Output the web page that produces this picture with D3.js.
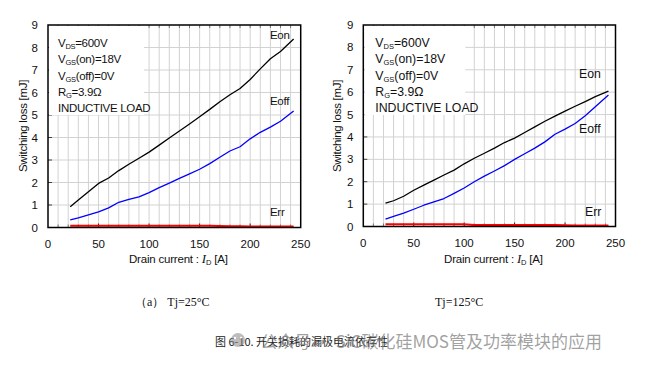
<!DOCTYPE html>
<html><head><meta charset="utf-8">
<script src="https://cdn.jsdelivr.net/npm/d3@7"></script>
<style>
html,body{margin:0;padding:0;background:#fff;}
svg{display:block;}
text{font-family:"Liberation Sans",Arial,sans-serif;}
</style></head>
<body>
<svg id="c" width="666" height="369"></svg>
<script>
// ---- data ----
const drainCurrent = [22,30,40,50,60,70,80,90,100,110,120,130,140,150,160,170,180,190,200,210,220,230,243];
const eon25  = [0.92,1.22,1.59,1.96,2.2,2.53,2.81,3.08,3.35,3.66,3.98,4.29,4.6,4.92,5.25,5.59,5.9,6.18,6.58,7.05,7.5,7.82,8.38];
const eoff25 = [0.34,0.43,0.56,0.69,0.87,1.12,1.25,1.36,1.55,1.77,1.97,2.18,2.38,2.59,2.84,3.12,3.4,3.59,3.94,4.23,4.46,4.72,5.18];
const err25  = [0.08,0.08,0.08,0.08,0.08,0.08,0.08,0.08,0.08,0.08,0.08,0.08,0.08,0.08,0.08,0.07,0.06,0.06,0.05,0.05,0.05,0.05,0.05];
const eon125  = [1.04,1.15,1.35,1.62,1.85,2.07,2.3,2.52,2.8,3.05,3.27,3.5,3.75,3.95,4.2,4.45,4.7,4.93,5.15,5.37,5.58,5.8,6.05];
const eoff125 = [0.33,0.45,0.6,0.77,0.95,1.1,1.25,1.48,1.72,2.0,2.25,2.48,2.72,3.0,3.25,3.5,3.78,4.12,4.35,4.6,4.95,5.35,5.87];
const err125  = [0.1,0.1,0.1,0.1,0.1,0.1,0.1,0.1,0.1,0.07,0.07,0.07,0.07,0.07,0.07,0.07,0.07,0.07,0.06,0.05,0.05,0.04,0.04];
const xTicks = [0,50,100,150,200,250];
const yTicks = [0,1,2,3,4,5,6,7,8,9];
const seriesNames = ["Eon","Eoff","Err"];
const seriesColors = ["#000000","#0000ff","#ff0000"];
const conditions = ["=600V","(on)=18V","(off)=0V","=3.9Ω","INDUCTIVE LOAD"];
const captions = ["（a）  Tj=25°C","Tj=125°C"];
const figTitle = "图  6-10.  开关损耗的漏极电流依存性";
const watermark = "公众号 · SiC碳化硅MOS管及功率模块的应用";

const svg = d3.select("#c");

function panel(cfg){
  const x = d3.scaleLinear().domain([0,250]).range([cfg.x0,cfg.x1]);
  const y = d3.scaleLinear().domain([0,9]).range([cfg.yb,cfg.yt]);
  const g = svg.append("g");
  // grid
  g.selectAll(".vg").data(d3.range(10,250,10)).join("line")
    .attr("x1",d=>x(d)).attr("x2",d=>x(d)).attr("y1",cfg.yt).attr("y2",cfg.yb)
    .attr("stroke","#d2d2d2").attr("stroke-width",1);
  g.selectAll(".hg").data(d3.range(1,9)).join("line")
    .attr("y1",d=>y(d)).attr("y2",d=>y(d)).attr("x1",cfg.x0).attr("x2",cfg.x1)
    .attr("stroke","#d2d2d2").attr("stroke-width",1);
  // inner ticks
  const minor = d3.range(10,250,10);
  g.selectAll(".tt").data(minor).join("line")
    .attr("x1",d=>x(d)).attr("x2",d=>x(d)).attr("y1",cfg.yt).attr("y2",cfg.yt+3)
    .attr("stroke","#777").attr("stroke-width",1);
  g.selectAll(".bt").data(minor).join("line")
    .attr("x1",d=>x(d)).attr("x2",d=>x(d)).attr("y1",cfg.yb).attr("y2",d=> d%50===0? cfg.yb-4 : cfg.yb-3)
    .attr("stroke",d=> d%50===0? "#222":"#777").attr("stroke-width",1);
  g.selectAll(".lt").data(d3.range(1,9)).join("line")
    .attr("y1",d=>y(d)).attr("y2",d=>y(d)).attr("x1",cfg.x0).attr("x2",cfg.x0+4)
    .attr("stroke","#444").attr("stroke-width",1);
  // legend box
  g.append("rect").attr("x",cfg.x0+1).attr("y",cfg.yt+1).attr("width",cfg.boxW).attr("height",89)
    .attr("fill","#fff");
  // conditions text
  const lt = g.append("g").attr("font-size",cfg.fs).attr("fill","#111");
  const tx = cfg.x0 + cfg.tx;
  const ys = [47,63,80,96,112];
  const subs = ["DS","GS","GS","G",null];
  const mains = ["V","V","V","R",""];
  conditions.forEach((c,i)=>{
    const t = lt.append("text").attr("x",tx).attr("y",ys[i]).attr("letter-spacing",cfg.ls);
    if(subs[i]){
      t.append("tspan").text(mains[i]);
      t.append("tspan").attr("font-size",7.5).attr("dy",2).text(subs[i]);
      t.append("tspan").attr("dy",-2).text(c);
    } else t.text(c);
  });
  // series
  const line = d3.line().x((d,i)=>x(drainCurrent[i])).y(d=>y(d));
  cfg.series.forEach((s,i)=>{
    g.append("path").datum(s).attr("d",line).attr("fill","none")
      .attr("stroke",seriesColors[i]).attr("stroke-width",i===2?2:1.3)
      .attr("stroke-linejoin","round");
  });
  // series labels
  cfg.labels.forEach((p,i)=>{
    g.append("text").attr("x",p[0]).attr("y",p[1]).attr("font-size",cfg.fs).attr("fill","#111")
      .attr("letter-spacing",cfg.ls).text(seriesNames[i]);
  });
  // frame
  g.append("rect").attr("x",cfg.x0).attr("y",cfg.yt).attr("width",cfg.x1-cfg.x0).attr("height",cfg.yb-cfg.yt)
    .attr("fill","none").attr("stroke","#000").attr("stroke-width",1.5);
  // tick labels
  g.selectAll(".yl").data(yTicks).join("text")
    .attr("x",cfg.x0-10).attr("y",d=>y(d)+4).attr("text-anchor","end")
    .attr("font-size",11.5).attr("fill","#111").text(d=>d);
  g.selectAll(".xl").data(xTicks).join("text")
    .attr("x",d=>x(d)).attr("y",cfg.yb+20).attr("text-anchor","middle")
    .attr("font-size",11.5).attr("fill","#111").text(d=>d);
  // axis titles
  g.append("text").attr("transform",`translate(${cfg.ytx},126) rotate(-90)`).attr("text-anchor","middle")
    .attr("font-size",11.5).attr("fill","#111").attr("letter-spacing",-0.3).text("Switching loss [mJ]");
  const xt = g.append("text").attr("x",(cfg.x0+cfg.x1)/2+4).attr("y",263).attr("text-anchor","middle")
    .attr("font-size",11.5).attr("fill","#111").attr("letter-spacing",-0.2);
  xt.append("tspan").text("Drain current : ");
  xt.append("tspan").style("font-family","'Liberation Serif',serif").style("font-style","italic").attr("font-size",13).text("I");
  xt.append("tspan").attr("font-size",7.5).attr("dy",2).text("D");
  xt.append("tspan").attr("dy",-2).text("  [A]");
}

panel({x0:48,x1:300.7,yt:25,yb:227.5,boxW:95,tx:10,ytx:27,fs:11.5,ls:-0.3,
  series:[eon25,eoff25,err25],
  labels:[[270,39],[270,105],[270,216]]});
panel({x0:363.3,x1:615.5,yt:25,yb:226.5,boxW:101,tx:12,ytx:341,fs:12.3,ls:0,
  series:[eon125,eoff125,err125],
  labels:[[579,78],[579,133],[585,216]]});

// captions
svg.append("text").attr("x",135).attr("y",306).style("font-family","'Liberation Serif',serif")
  .attr("font-size",12).attr("fill","#111").text(captions[0]);
svg.append("text").attr("x",435).attr("y",306).style("font-family","'Liberation Serif',serif")
  .attr("font-size",12).attr("fill","#111").text(captions[1]);
svg.append("text").attr("x",215).attr("y",346).style("font-family","'Noto Sans CJK SC',serif")
  .attr("font-size",11).attr("fill","#222").text(figTitle);
// watermark
const wm = svg.append("g").attr("opacity",0.55);
wm.append("circle").attr("cx",238).attr("cy",340).attr("r",7).attr("fill","#888");
wm.append("circle").attr("cx",235).attr("cy",338).attr("r",1.2).attr("fill","#fff");
wm.append("circle").attr("cx",241).attr("cy",338).attr("r",1.2).attr("fill","#fff");
svg.append("text").attr("x",602).attr("y",348).attr("text-anchor","end")
  .style("font-family","'Noto Sans CJK SC',sans-serif").attr("font-size",17)
  .attr("fill","rgba(130,130,130,0.75)").text(watermark);
</script>
</body></html>
